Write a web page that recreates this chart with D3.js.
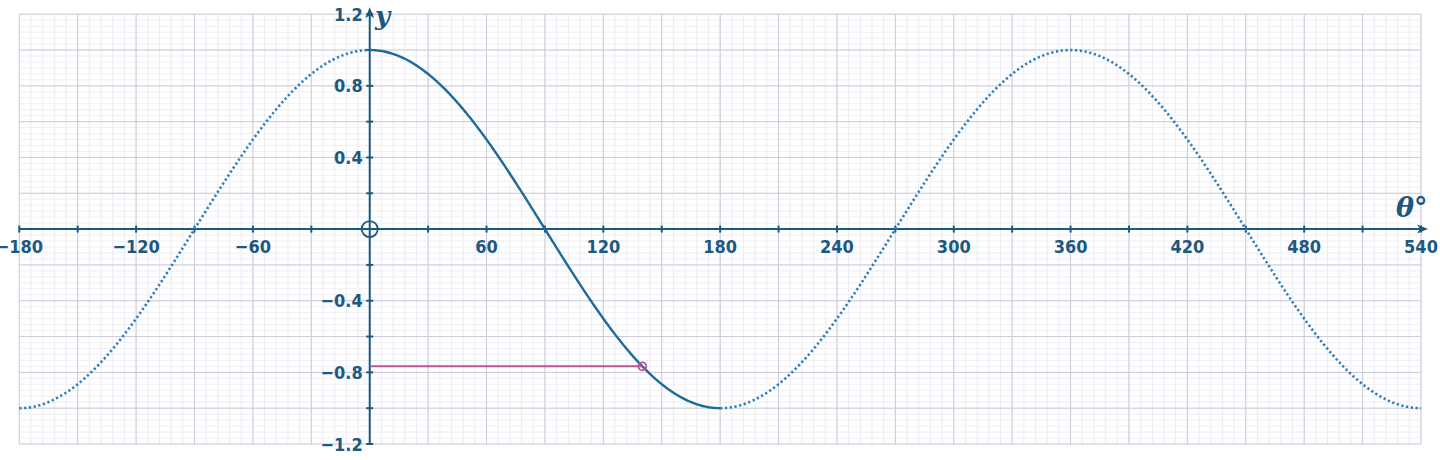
<!DOCTYPE html>
<html><head><meta charset="utf-8">
<script src="https://cdn.jsdelivr.net/npm/d3@7/dist/d3.min.js"></script>
<style>html,body{margin:0;padding:0;background:#fff;}svg{display:block;}</style>
</head><body>
<script>
// data
const xDomain = [-180, 540];
const yDomain = [-1.2, 1.2];
const xTickValues = [-180, -150, -120, -90, -60, -30, 0, 30, 60, 90, 120, 150, 180, 210, 240, 270, 300, 330, 360, 390, 420, 450, 480, 510, 540];
const xLabelValues = [-180, -120, -60, 60, 120, 180, 240, 300, 360, 420, 480, 540];
const yTickValues = [-1.2, -1.0, -0.8, -0.6, -0.4, -0.2, 0.2, 0.4, 0.6, 0.8, 1.0, 1.2];
const yLabelValues = [-1.2, -0.8, -0.4, 0.4, 0.8, 1.2];
const solidRange = [0, 180];
const markerAngle = 140;
const markerValue = -0.766;

const W = 1440, H = 460;
const x = d3.scaleLinear().domain(xDomain).range([19.3, 1421]);
const y = d3.scaleLinear().domain(yDomain).range([444, 14.2]);

const svg = d3.select("body").append("svg").attr("width", W).attr("height", H);

// grid
const g = svg.append("g");
const minorX = d3.range(-180, 540.001, 6);
const minorY = d3.range(-36, 36.001, 1).map(v => v / 30);
g.selectAll(".mx").data(minorX).enter().append("line")
  .attr("x1", d => x(d)).attr("x2", d => x(d)).attr("y1", y(1.2)).attr("y2", y(-1.2))
  .attr("stroke", "#ebebf2").attr("stroke-width", 1);
g.selectAll(".my").data(minorY).enter().append("line")
  .attr("y1", d => y(d)).attr("y2", d => y(d)).attr("x1", x(-180)).attr("x2", x(540))
  .attr("stroke", "#efeff5").attr("stroke-width", 1);
g.selectAll(".Mx").data(xTickValues).enter().append("line")
  .attr("x1", d => x(d)).attr("x2", d => x(d)).attr("y1", y(1.2)).attr("y2", y(-1.2))
  .attr("stroke", "#cbcbdb").attr("stroke-width", 1);
g.selectAll(".My").data(d3.range(-6, 6.001, 1).map(v => v / 5)).enter().append("line")
  .attr("y1", d => y(d)).attr("y2", d => y(d)).attr("x1", x(-180)).attr("x2", x(540))
  .attr("stroke", "#cbcbdb").attr("stroke-width", 1);

const axisColor = "#1d587f";
// x axis
svg.append("line").attr("x1", x(-180)).attr("x2", x(540) + 2).attr("y1", y(0)).attr("y2", y(0))
  .attr("stroke", axisColor).attr("stroke-width", 2);
svg.append("path").attr("d", `M${x(540)+7},${y(0)} L${x(540)-4},${y(0)-4.5} L${x(540)-1},${y(0)} L${x(540)-4},${y(0)+4.5} Z`).attr("fill", axisColor);
svg.selectAll(".xt").data(xTickValues.filter(d => d !== 0)).enter().append("line")
  .attr("x1", d => x(d)).attr("x2", d => x(d)).attr("y1", y(0) - 3.5).attr("y2", y(0) + 3.5)
  .attr("stroke", axisColor).attr("stroke-width", 2);
// y axis
svg.append("line").attr("x1", x(0)).attr("x2", x(0)).attr("y1", y(-1.2)).attr("y2", y(1.2) - 2)
  .attr("stroke", axisColor).attr("stroke-width", 2);
svg.append("path").attr("d", `M${x(0)},${y(1.2)-7} L${x(0)-4.5},${y(1.2)+4} L${x(0)},${y(1.2)+1} L${x(0)+4.5},${y(1.2)+4} Z`).attr("fill", axisColor);
svg.selectAll(".yt").data(yTickValues).enter().append("line")
  .attr("y1", d => y(d)).attr("y2", d => y(d)).attr("x1", x(0) - 3.5).attr("x2", x(0) + 3.5)
  .attr("stroke", axisColor).attr("stroke-width", 2);

const fontF = "'DejaVu Sans Condensed', 'DejaVu Sans', sans-serif";
const fmt = v => (v < 0 ? "\u2212" : "") + Math.abs(v);
svg.selectAll(".xl").data(xLabelValues).enter().append("text")
  .attr("x", d => x(d)).attr("y", y(0) + 24)
  .attr("text-anchor", "middle").attr("font-family", fontF).attr("font-size", 18).attr("font-weight", "bold")
  .attr("fill", axisColor).text(d => fmt(d));
svg.selectAll(".yl").data(yLabelValues).enter().append("text")
  .attr("x", x(0) - 7).attr("y", d => y(d) + 6.5)
  .attr("text-anchor", "end").attr("font-family", fontF).attr("font-size", 18).attr("font-weight", "bold")
  .attr("fill", axisColor).text(d => (d < 0 ? "\u2212" : "") + Math.abs(d).toFixed(1));

// axis labels
svg.append("text").attr("x", 375).attr("y", 25).attr("font-family", "'DejaVu Serif', serif")
  .attr("font-style", "italic").attr("font-weight", "bold").attr("font-size", 26)
  .attr("fill", axisColor).text("y");
svg.append("text").attr("x", 1396).attr("y", 217).attr("font-family", "'DejaVu Serif', serif")
  .attr("font-style", "italic").attr("font-weight", "bold").attr("font-size", 27)
  .attr("fill", axisColor).text("θ°");

// curve
const rad = d => d * Math.PI / 180;
const line = d3.line().x(d => x(d)).y(d => y(Math.cos(rad(d)))).curve(d3.curveLinear);
const dotted1 = d3.range(-180, 0.001, 0.5);
const dotted2 = d3.range(180, 540.001, 0.5);
const solid = d3.range(solidRange[0], solidRange[1] + 0.001, 0.5);
[dotted1, dotted2].forEach(arr => {
  svg.append("path").datum(arr).attr("d", line).attr("fill", "none")
    .attr("stroke", "#2a7cbc").attr("stroke-width", 2.6).attr("stroke-dasharray", "2.2,2.6");
});
svg.append("path").datum(solid).attr("d", line).attr("fill", "none")
  .attr("stroke", "#1e6a9c").attr("stroke-width", 2.4);

// marker
svg.append("line").attr("x1", x(0) + 1).attr("x2", x(markerAngle)).attr("y1", y(markerValue)).attr("y2", y(markerValue))
  .attr("stroke", "#c0529a").attr("stroke-width", 2);
svg.append("circle").attr("cx", x(markerAngle)).attr("cy", y(markerValue)).attr("r", 4)
  .attr("fill", "none").attr("stroke", "#c0529a").attr("stroke-width", 1.8);

// origin circle
svg.append("circle").attr("cx", x(0)).attr("cy", y(0)).attr("r", 8)
  .attr("fill", "none").attr("stroke", axisColor).attr("stroke-width", 1.8);
</script>
</body></html>
